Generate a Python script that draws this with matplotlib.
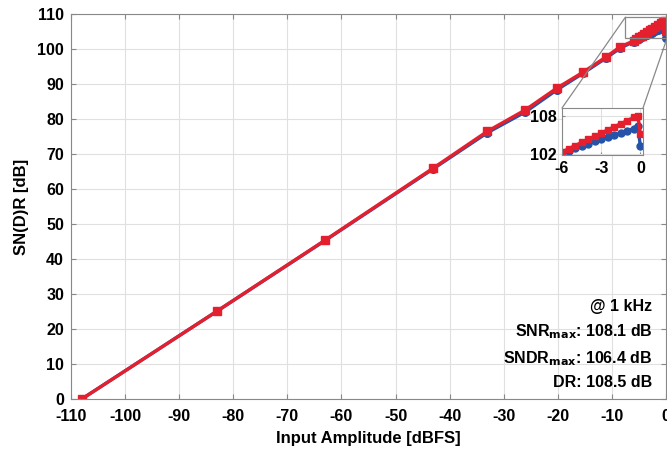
import numpy as np
import matplotlib
matplotlib.use('Agg')
import matplotlib.pyplot as plt
from matplotlib.patches import Rectangle, ConnectionPatch

plt.rcParams['font.family'] = ['Liberation Sans', 'DejaVu Sans']
plt.rcParams['font.weight'] = 'bold'
plt.rcParams['axes.unicode_minus'] = False
plt.rcParams['mathtext.default'] = 'bf'

# input amplitude [dBFS]
amp = [-108, -83, -63, -43, -33, -26, -20.2, -15.4, -11.1, -8.5,
       -6.0, -5.5, -5.0, -4.5, -4.0, -3.5, -3.0, -2.5, -2.0, -1.5, -1.0, -0.5, -0.2, 0.0]
# SNR [dB] (red)
snr = [0.0, 25.1, 45.4, 66.0, 76.5, 82.6, 88.8, 93.3, 97.7, 100.6,
       102.3, 102.8, 103.3, 103.8, 104.3, 104.8, 105.3, 105.8, 106.3, 106.8, 107.3, 107.8, 108.1, 105.2]
# SNDR [dB] (blue)
sndr = [0.0, 25.1, 45.3, 65.8, 76.1, 82.0, 88.3, 93.0, 97.4, 100.2,
        102.1, 102.5, 102.9, 103.3, 103.6, 104.0, 104.3, 104.6, 105.0, 105.3, 105.7, 106.0, 106.4, 103.2]

notes = ['@ 1 kHz', r'SNR$_{\mathbf{max}}$: 108.1 dB', r'SNDR$_{\mathbf{max}}$: 106.4 dB', 'DR: 108.5 dB']

red = '#e5202e'
blue = '#2453a8'

fig = plt.figure(figsize=(6.67, 4.57), dpi=100)
ax = fig.add_axes([0.1064, 0.1269, 0.8921, 0.8425])

ax.plot(amp, sndr, '-o', color=blue, lw=2.4, ms=5.5)
ax.plot(amp, snr, '-s', color=red, lw=2.4, ms=5.5)

ax.set_xlim(-110, 0)
ax.set_ylim(0, 110)
ax.set_xticks(np.arange(-110, 1, 10))
ax.set_yticks(np.arange(0, 111, 10))
ax.grid(True, color='#e0e0e0', lw=0.8)
ax.tick_params(direction='in', top=True, right=True, labelsize=11.5, color='#888888')
ax.tick_params(axis='x', pad=7)
ax.tick_params(axis='y', pad=5)
for lab in ax.get_xticklabels() + ax.get_yticklabels():
    lab.set_fontweight('bold')
for s in ax.spines.values():
    s.set_color('#888888')
ax.set_xlabel('Input Amplitude [dBFS]', fontsize=12, fontweight='bold', labelpad=5)
ax.set_ylabel('SN(D)R [dB]', fontsize=12, fontweight='bold', labelpad=6)

# notes in lower right
ypos = [0.239, 0.176, 0.104, 0.042]
for t, yy in zip(notes, ypos):
    ax.text(0.977, yy, t, transform=ax.transAxes, ha='right', va='center',
            fontsize=11.5, fontweight='bold')

# zoom rectangle
ax.add_patch(Rectangle((-7.5, 103.1), 7.7, 6.0, fill=False, ec='#888888', lw=0.9, zorder=5, clip_on=False))

# inset
axi = fig.add_axes([0.8426, 0.6608, 0.1214, 0.1028])
axi.plot(amp, sndr, '-o', color=blue, lw=2.4, ms=5)
axi.plot(amp, snr, '-s', color=red, lw=2.4, ms=5)
axi.set_xlim(-6, 0.2)
axi.set_ylim(101.8, 109.3)
axi.set_xticks([-6, -3, 0])
axi.set_yticks([102, 108])
axi.grid(True, color='#e0e0e0', lw=0.8)
axi.tick_params(direction='in', labelsize=11.5, color='#888888', pad=4, length=2)
for lab in axi.get_xticklabels() + axi.get_yticklabels():
    lab.set_fontweight('bold')
for s in axi.spines.values():
    s.set_color('#888888')

con1 = ConnectionPatch(xyA=(-7.5, 109.1), coordsA=ax.transData,
                       xyB=(0, 1), coordsB=axi.transAxes, color='#888888', lw=0.9)
con2 = ConnectionPatch(xyA=(0.2, 103.1), coordsA=ax.transData,
                       xyB=(1, 1), coordsB=axi.transAxes, color='#888888', lw=0.9)
fig.add_artist(con1)
fig.add_artist(con2)

fig.savefig('out.png', dpi=100)
